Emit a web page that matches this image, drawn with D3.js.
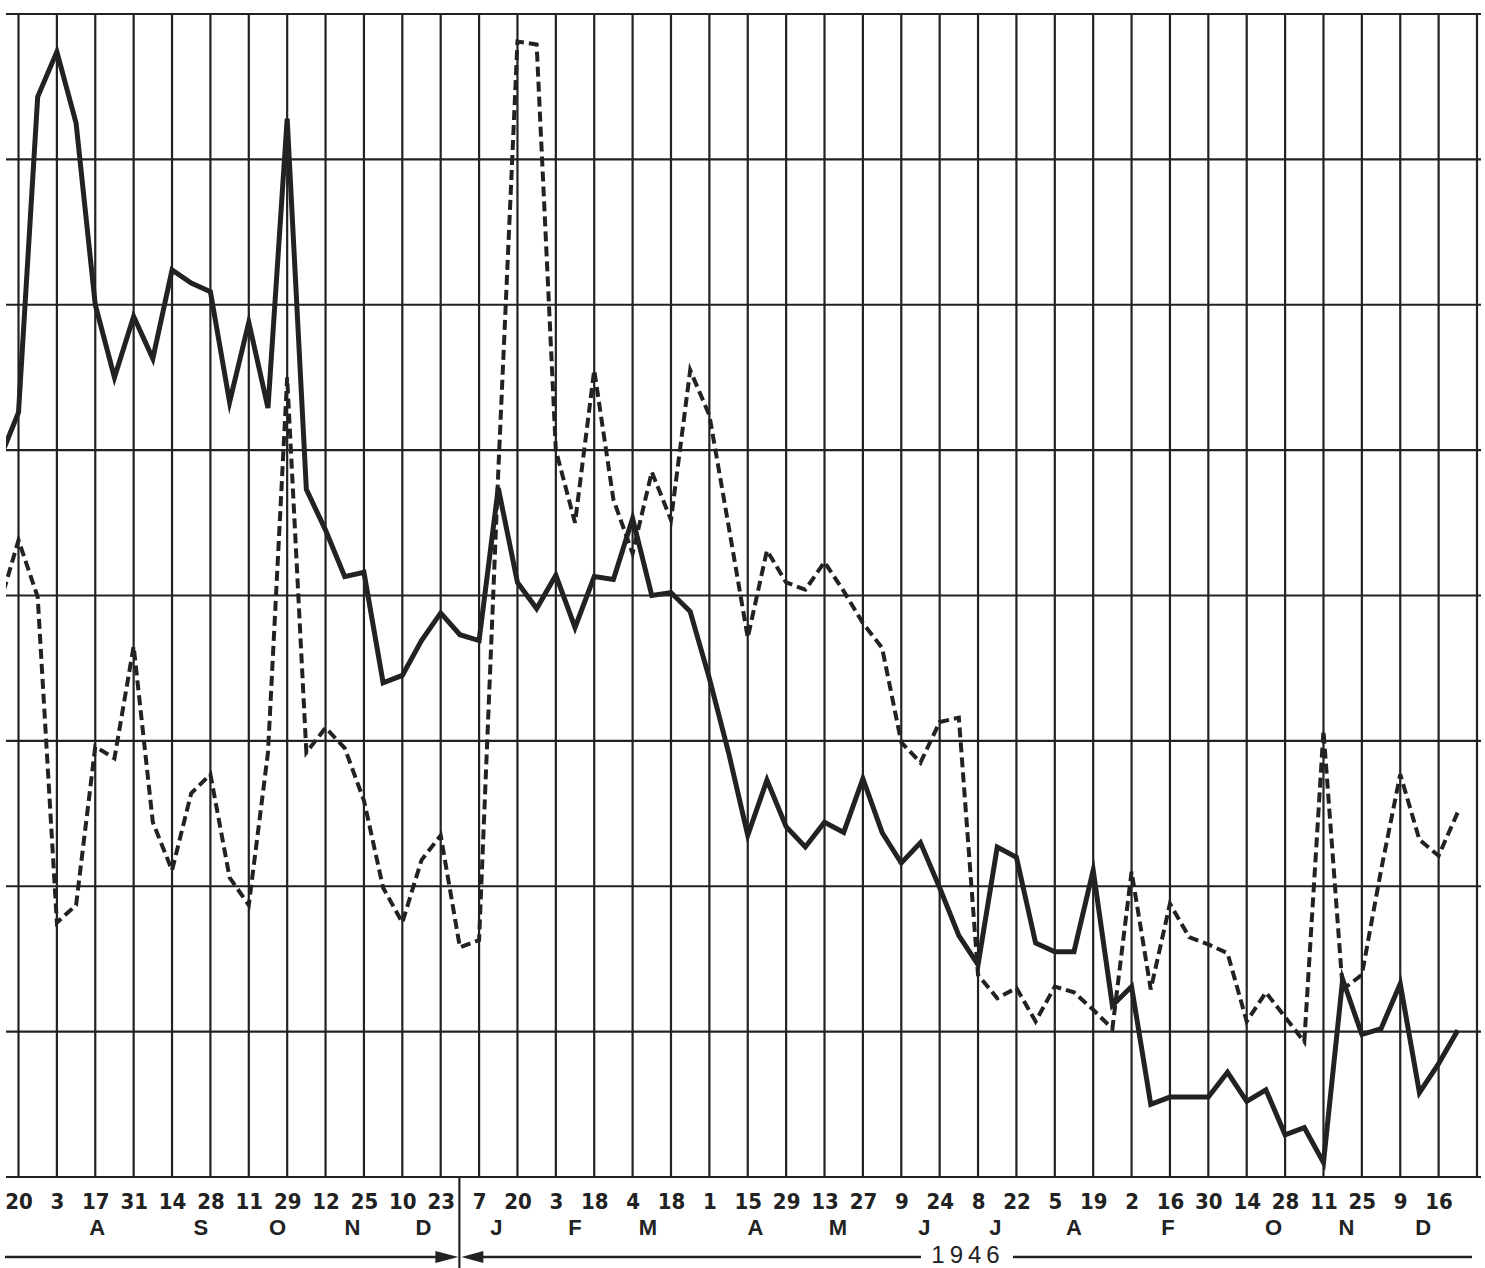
<!DOCTYPE html>
<html><head><meta charset="utf-8">
<script src="https://cdn.jsdelivr.net/npm/d3@7/dist/d3.min.js"></script>
<style>html,body{margin:0;padding:0;background:#fff}</style>
</head><body>
<svg id="chart" width="1485" height="1268"></svg>
<script>
// ---- data ----
const weekLabels = ["20","3","17","31","14","28","11","29","12","25","10","23","7","20","3","18","4","18","1","15","29","13","27","9","24","8","22","5","19","2","16","30","14","28","11","25","9","16"];
const monthLabels = ["A","S","O","N","D","J","F","M","A","M","J","J","A","F","O","N","D"];
const monthWeeks = [4.1, 9.5, 13.5, 17.4, 21.1, 24.9, 29.0, 32.8, 38.4, 42.7, 47.2, 50.9, 55.0, 59.9, 65.4, 69.2, 73.2];
const yearLabel = "1946";
const weeks = d3.range(-1, 76);
const solidSeries = [49.3, 52.6, 74.3, 77.4, 72.5, 60.0, 55.0, 59.2, 56.3, 62.4, 61.5, 60.9, 53.3, 58.8, 52.9, 72.8,
  47.3, 44.5, 41.3, 41.6, 34.0, 34.5, 36.9, 38.8, 37.3, 36.9, 47.4, 40.9, 39.1, 41.4, 37.8, 41.3, 41.1, 45.3,
  40.0, 40.2, 38.9, 34.3, 29.2, 23.5, 27.3, 24.1, 22.7, 24.4, 23.7, 27.4, 23.7, 21.6, 23.0, 19.9, 16.6, 14.6,
  22.7, 22.0, 16.1, 15.5, 15.5, 21.1, 11.8, 13.1, 5.0, 5.5, 5.5, 5.5, 7.2, 5.2, 6.0, 2.9, 3.4, 1.0, 13.6, 9.8,
  10.2, 13.3, 5.8, 7.8, 10.1];
const dashedSeries = [39.3, 43.8, 39.9, 17.5, 18.7, 29.6, 28.8, 36.5, 24.4, 21.1, 26.4, 27.7, 20.6, 18.7, 29.2, 55.0,
  29.2, 30.9, 29.5, 25.9, 19.9, 17.5, 21.8, 23.5, 15.8, 16.3, 48.5, 78.1, 77.9, 50.0, 45.0, 55.5, 46.6, 42.9,
  48.5, 45.2, 55.5, 52.4, 44.8, 37.1, 43.1, 40.9, 40.4, 42.3, 40.3, 38.1, 36.4, 29.9, 28.5, 31.3, 31.6, 13.9,
  12.3, 13.0, 10.7, 13.1, 12.7, 11.5, 10.2, 21.0, 12.9, 18.8, 16.5, 16.0, 15.4, 10.7, 12.7, 11.0, 9.3, 30.7,
  12.9, 13.9, 21.1, 27.7, 23.2, 22.1, 25.1];

// ---- drawing ----
const ink = "#222";
const svg = d3.select("#chart");
const x = d3.scaleLinear().domain([0, 76]).range([18.5, 1477]);
const y = d3.scaleLinear().domain([0, 80]).range([1177, 14]);

svg.append("defs").append("clipPath").attr("id", "plot")
  .append("rect").attr("x", 6).attr("y", 0).attr("width", 1476).attr("height", 1180);

const grid = svg.append("g").attr("stroke", ink).attr("stroke-width", 2.2);
grid.selectAll("line.h").data(d3.range(0, 81, 10)).join("line")
  .attr("x1", 6).attr("x2", 1481).attr("y1", d => y(d)).attr("y2", d => y(d));
grid.selectAll("line.v").data(d3.range(0, 77, 2)).join("line")
  .attr("x1", d => x(d)).attr("x2", d => x(d)).attr("y1", y(80)).attr("y2", y(0));

const line = d3.line().x((d, i) => x(weeks[i])).y(d => y(d));
const lines = svg.append("g").attr("clip-path", "url(#plot)").attr("fill", "none").attr("stroke", ink);
lines.append("path").datum(dashedSeries).attr("d", line)
  .attr("stroke-width", 4).attr("stroke-dasharray", "10,5").attr("stroke-linejoin", "miter");
lines.append("path").datum(solidSeries).attr("d", line)
  .attr("stroke-width", 5).attr("stroke-linejoin", "miter").attr("stroke-miterlimit", 6);

// week labels via axis
const ax = svg.append("g").attr("transform", `translate(0,${y(0)})`)
  .call(d3.axisBottom(x).tickValues(d3.range(0, 76, 2)).tickFormat((d, i) => weekLabels[i]).tickSize(0).tickPadding(16.5));
ax.select(".domain").remove();
ax.selectAll("text").attr("fill", ink)
  .style("font-family", "'Liberation Sans Narrow','DejaVu Sans Condensed','Liberation Sans',sans-serif")
  .style("font-weight", "bold").style("font-size", "22px");

// month letters
svg.append("g").selectAll("text").data(monthLabels).join("text")
  .attr("x", (d, i) => x(monthWeeks[i])).attr("y", 1234.5).attr("text-anchor", "middle")
  .attr("fill", ink).style("font-family", "'Liberation Sans',sans-serif").style("font-weight", "bold").style("font-size", "22px")
  .text(d => d);

// year bracket
const divX = (x(22) + x(24)) / 2 - 0.5;
const yb = 1257;
const br = svg.append("g").attr("stroke", ink).attr("fill", ink);
br.append("line").attr("x1", divX).attr("x2", divX).attr("y1", y(0)).attr("y2", 1268).attr("stroke-width", 2.2);
br.append("line").attr("x1", 5).attr("x2", divX - 20).attr("y1", yb).attr("y2", yb).attr("stroke-width", 2.6);
br.append("path").attr("stroke", "none").attr("d", `M${divX - 24},${yb - 6} L${divX - 1},${yb} L${divX - 24},${yb + 6} Z`);
br.append("path").attr("stroke", "none").attr("d", `M${divX + 24},${yb - 6} L${divX + 2},${yb} L${divX + 24},${yb + 6} Z`);
br.append("line").attr("x1", divX + 20).attr("x2", 921).attr("y1", yb).attr("y2", yb).attr("stroke-width", 2.6);
br.append("line").attr("x1", 1013).attr("x2", 1472).attr("y1", yb).attr("y2", yb).attr("stroke-width", 2.6);
svg.append("text").attr("x", 968).attr("y", 1262.5).attr("text-anchor", "middle").attr("fill", ink)
  .style("font-family", "'Liberation Sans',sans-serif").style("font-size", "24px").style("letter-spacing", "5px")
  .text(yearLabel);
</script>
</body></html>
